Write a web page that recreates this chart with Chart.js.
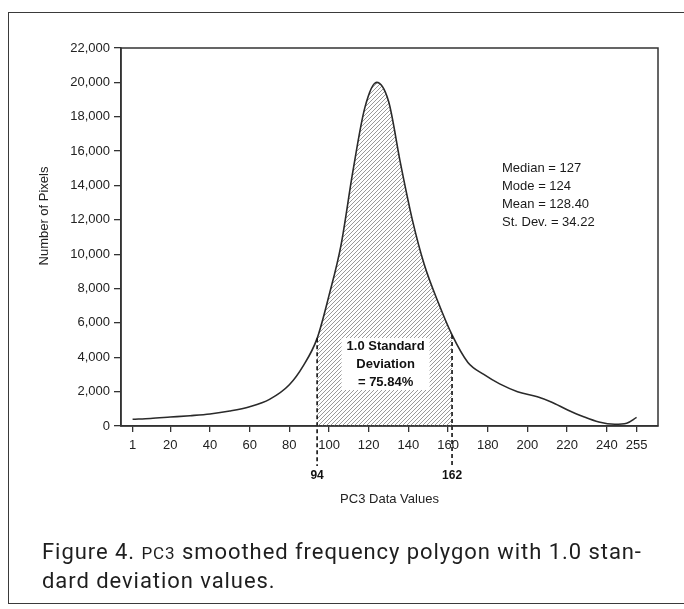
<!DOCTYPE html>
<html><head><meta charset="utf-8">
<script src="https://cdn.jsdelivr.net/npm/chart.js@4/dist/chart.umd.min.js"></script>
<style>
html,body{margin:0;padding:0;background:#fff;}
#wrap{position:relative;width:684px;height:609px;overflow:hidden;background:#fff;}
#frame{position:absolute;left:8px;top:12px;width:700px;height:592px;border:1.5px solid #3a3a3a;border-right:none;box-sizing:border-box;}
#c{position:absolute;left:0;top:0;}
#cap{position:absolute;left:42px;top:538px;font-family:Roboto,'Liberation Sans',sans-serif;font-size:22px;line-height:28px;color:#1e1e1e;white-space:nowrap;}
#cap .sc{font-size:17px;}
</style></head>
<body><div id="wrap"><div id="frame"></div><canvas id="c" width="684" height="609"></canvas>
<div id="cap"><span id="l1">Figure 4. <span class="sc">PC3</span> smoothed frequency polygon with 1.0 stan-</span><br><span id="l2">dard deviation values.</span></div></div>
<script>
// ---- data ----
const xValues = [1,10,20,30,40,50,60,70,80,87,94,100,106,112,118,124,130,136,142,148,155,162,170,178,186,195,205,212,220,228,236,244,250,255];
const pixelCounts = [390,440,520,600,700,870,1120,1550,2400,3500,5100,7600,10500,14800,18500,20000,18900,15300,12000,9400,7200,5300,3700,3000,2450,2000,1700,1400,950,550,230,100,160,500];
const xTickValues = [1,20,40,60,80,100,120,140,160,180,200,220,240,255];
const sdBounds = [94,162];
const sdLabelLines = ['1.0 Standard','Deviation','= 75.84%'];
const statLines = ['Median = 127','Mode = 124','Mean = 128.40','St. Dev. = 34.22'];
const xTitle = 'PC3 Data Values';
const yTitle = 'Number of Pixels';

const FONT = "'Liberation Sans', Arial, Helvetica, sans-serif";
const points = xValues.map((x,i)=>({x:x, y:pixelCounts[i]}));

// fit caption line 1 width to the reference (~600px) via letter spacing
function fitCaption(){
  const cap = document.getElementById('cap');
  const l1 = document.getElementById('l1');
  cap.style.letterSpacing = '0px';
  const w = l1.getBoundingClientRect().width;
  const n = l1.textContent.length;
  const ls = Math.max(-1, Math.min(2, (600 - w) / n));
  cap.style.letterSpacing = ls.toFixed(2) + 'px';
}
fitCaption();
if (document.fonts && document.fonts.ready) document.fonts.ready.then(fitCaption);

function hatchPattern(ctx){
  const c = document.createElement('canvas'); c.width = 4; c.height = 4;
  const g = c.getContext('2d');
  g.strokeStyle = '#9a9a9a'; g.lineWidth = 1;
  g.beginPath();
  g.moveTo(0,4); g.lineTo(4,0);
  g.moveTo(-1,1); g.lineTo(1,-1);
  g.moveTo(3,5); g.lineTo(5,3);
  g.stroke();
  return ctx.createPattern(c,'repeat');
}

const decor = {
  id:'decor',
  beforeDatasetsDraw(chart){
    const ctx = chart.ctx, xs = chart.scales.x, ys = chart.scales.y;
    const meta = chart.getDatasetMeta(0);
    const line = meta.dataset, pts = meta.data;
    const x0 = xs.getPixelForValue(sdBounds[0]), x1 = xs.getPixelForValue(sdBounds[1]);
    const yb = ys.getPixelForValue(0);
    ctx.save();
    ctx.beginPath(); ctx.rect(x0, chart.chartArea.top, x1-x0, yb-chart.chartArea.top); ctx.clip();
    ctx.beginPath();
    if (line && typeof line.path === 'function') { line.path(ctx); }
    else { pts.forEach((p,i)=> i? ctx.lineTo(p.x,p.y): ctx.moveTo(p.x,p.y)); }
    ctx.lineTo(pts[pts.length-1].x, yb); ctx.lineTo(pts[0].x, yb); ctx.closePath();
    ctx.fillStyle = hatchPattern(ctx); ctx.fill();
    ctx.restore();
  },
  afterDatasetsDraw(chart){
    const ctx = chart.ctx, xs = chart.scales.x, ys = chart.scales.y, ca = chart.chartArea;
    const meta = chart.getDatasetMeta(0);
    ctx.save();
    ctx.strokeStyle = '#111'; ctx.lineWidth = 1.6; ctx.setLineDash([4,3]);
    sdBounds.forEach(b=>{
      const i = xValues.indexOf(b);
      const px = xs.getPixelForValue(b);
      const top = meta.data[i].y;
      ctx.beginPath(); ctx.moveTo(px, top); ctx.lineTo(px, ca.bottom + 40); ctx.stroke();
    });
    ctx.restore();
    ctx.save();
    ctx.font = 'bold 13px ' + FONT;
    const cx = (xs.getPixelForValue(sdBounds[0]) + xs.getPixelForValue(sdBounds[1]))/2 + 1;
    const w = Math.max(...sdLabelLines.map(s=>ctx.measureText(s).width)) + 10;
    const yTop = 338, lh = 18;
    ctx.fillStyle = '#fff';
    ctx.fillRect(cx - w/2, yTop, w, lh*sdLabelLines.length - 2);
    ctx.fillStyle = '#111'; ctx.textAlign = 'center'; ctx.textBaseline = 'middle';
    sdLabelLines.forEach((s,k)=> ctx.fillText(s, cx, yTop + 8 + k*lh));
    ctx.restore();
  },
  afterDraw(chart){
    const ctx = chart.ctx, xs = chart.scales.x, ca = chart.chartArea;
    ctx.save();
    ctx.strokeStyle = '#333'; ctx.lineWidth = 1.5;
    ctx.strokeRect(ca.left, ca.top, ca.right-ca.left, ca.bottom-ca.top);
    ctx.font = 'bold 12px ' + FONT; ctx.fillStyle = '#111';
    ctx.textAlign = 'center'; ctx.textBaseline = 'middle';
    sdBounds.forEach(b=> ctx.fillText(String(b), xs.getPixelForValue(b), ca.bottom + 50));
    ctx.font = '13px ' + FONT; ctx.fillStyle = '#222';
    ctx.fillText(xTitle, (ca.left+ca.right)/2, ca.bottom + 73);
    ctx.save(); ctx.translate(44, 216); ctx.rotate(-Math.PI/2); ctx.fillText(yTitle, 0, 0); ctx.restore();
    ctx.font = '13px ' + FONT; ctx.textAlign = 'left'; ctx.fillStyle = '#1a1a1a';
    statLines.forEach((s,k)=> ctx.fillText(s, 502, 168 + k*18));
    ctx.restore();
  }
};

new Chart(document.getElementById('c'), {
  type:'line',
  data:{ datasets:[{ data: points, borderColor:'#2a2a2a', borderWidth:1.6, pointRadius:0, fill:false, cubicInterpolationMode:'monotone' }]},
  options:{
    responsive:false, animation:false, devicePixelRatio:1,
    layout:{ padding:{ left:0, top:48, right:26, bottom:143 } },
    plugins:{ legend:{display:false}, tooltip:{enabled:false} },
    scales:{
      x:{ type:'linear', min:-4.84, max:265.8,
        afterBuildTicks: s => { s.ticks = xTickValues.map(v=>({value:v})); },
        afterFit: s => { s.height = 40; },
        grid:{ drawOnChartArea:false, tickLength:6, color:'#333', lineWidth:1.3 },
        border:{ color:'#333', width:1.5 },
        ticks:{ autoSkip:false, maxRotation:0, padding:6, color:'#222', font:{ size:13, family:FONT }, callback: v => String(v) } },
      y:{ min:0, max:22000,
        afterFit: s => { s.width = 121; },
        grid:{ drawOnChartArea:false, tickLength:7, color:'#333', lineWidth:1.3 },
        border:{ color:'#333', width:1.5 },
        ticks:{ stepSize:2000, padding:4, color:'#222', font:{ size:13, family:FONT }, callback: v => Number(v).toLocaleString('en-US') } }
    }
  },
  plugins:[decor]
});
</script>
</body></html>
